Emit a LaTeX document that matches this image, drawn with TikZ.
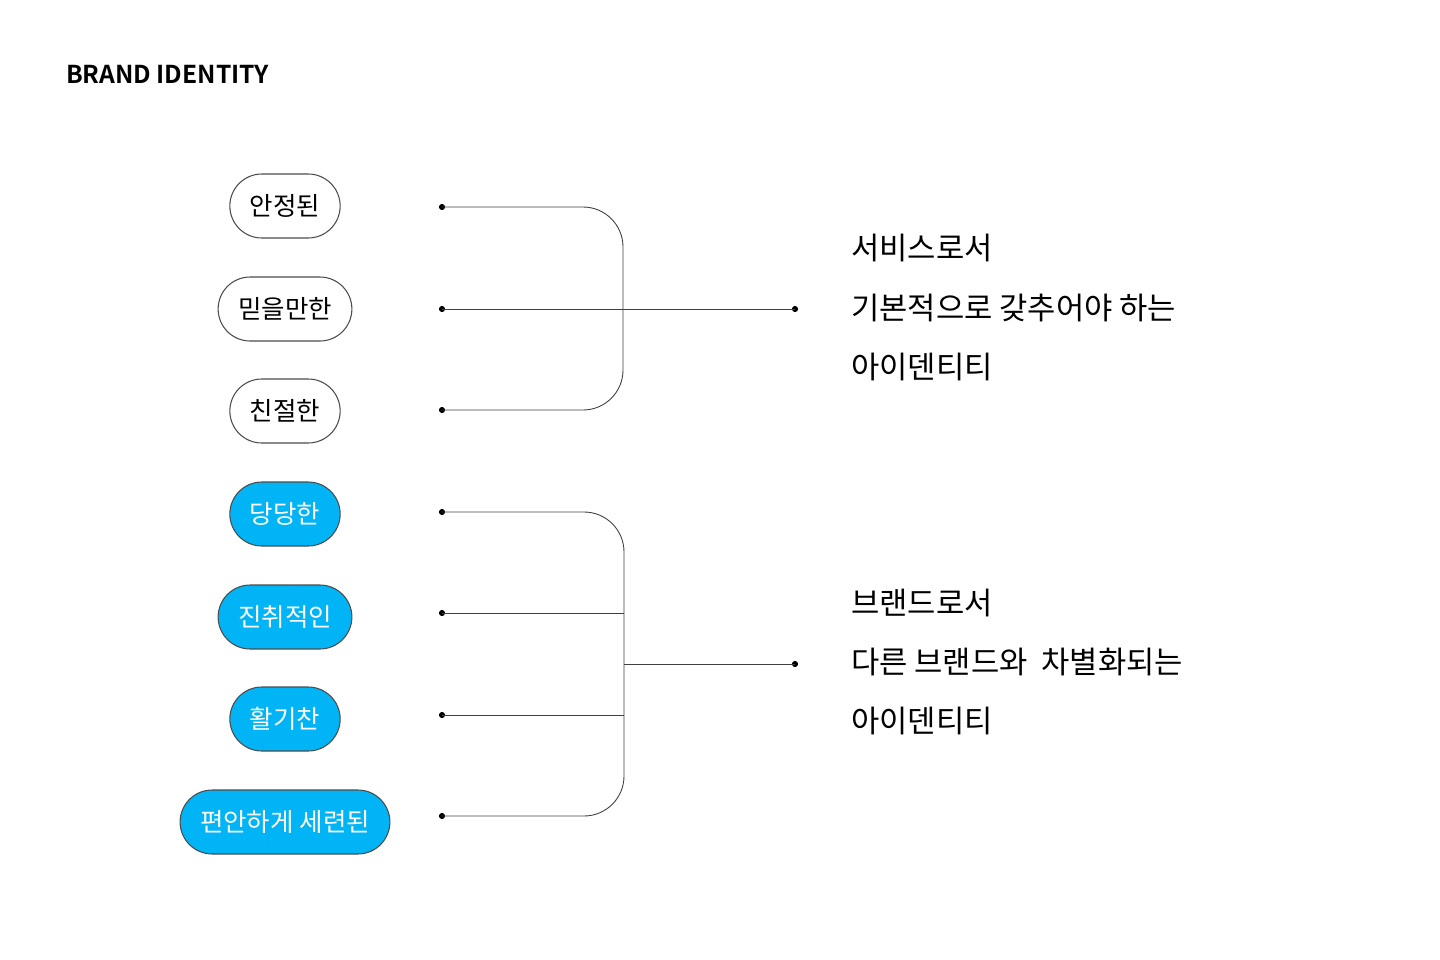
\documentclass[tikz,border=0pt]{standalone}
\usepackage{fontspec}
\setmainfont{Noto Sans CJK KR}
\newfontfamily\krbold{Noto Sans CJK KR Bold}
\usetikzlibrary{positioning}
\definecolor{pillblue}{HTML}{00B4F5}
\tikzset{
  pill/.style={draw=black!70, line width=0.6pt, rounded corners=32*0.02cm,
    minimum height=64*0.02cm, inner xsep=20*0.02cm, font=\fontsize{14.5}{16}\selectfont},
  plain pill/.style={pill, fill=white, text=black},
  blue pill/.style={pill, fill=pillblue, text=white},
  link/.style={draw=black!75, line width=0.5pt, rounded corners=40*0.02cm},
  tip/.style={circle, fill=black, inner sep=0pt, minimum size=3.5pt},
  label/.style={anchor=west, font=\fontsize{17.5}{20}\selectfont}
}
\begin{document}
\begin{tikzpicture}[x=0.02cm, y=-0.02cm]
  \useasboundingbox (0,0) rectangle (1440,960);
  % Title
  \node[anchor=west, font=\krbold\fontsize{14}{16}\selectfont] (title) at (60,74) {BRAND IDENTITY};
  % Keywords
  \node[plain pill] (k1) at (285,206) {안정된};
  \node[plain pill] (k2) at (285,309) {믿을만한};
  \node[plain pill] (k3) at (285,411) {친절한};
  \node[blue pill] (k4) at (285,514) {당당한};
  \node[blue pill] (k5) at (285,617) {진취적인};
  \node[blue pill] (k6) at (285,719) {활기찬};
  \node[blue pill] (k7) at (285,822) {편안하게 세련된};
  % Connector ends
  \foreach \i/\y in {1/207,2/309,3/410,4/512,5/613,6/715,7/816}
    \node[tip] (s\i) at (442,\y) {};
  \node[tip] (e1) at (795,309) {};
  \node[tip] (e2) at (795,664) {};
  \coordinate (j1) at (624,664);
  % Upper group
  \draw[link] (s1.center) -| (623,309) |- (s3.center);
  \draw[link] (s2.center) -- (e1.center);
  % Lower group
  \draw[link] (s4.center) -| (j1) |- (s7.center);
  \draw[link] (s5.center) -- (s5.center -| j1);
  \draw[link] (s6.center) -- (s6.center -| j1);
  \draw[link] (j1) -- (e2.center);
  % Descriptions
  \node[label] (d1) at (845,248) {서비스로서};
  \node[label] (d2) at (845,308) {기본적으로 갖추어야 하는};
  \node[label] (d3) at (845,367) {아이덴티티};
  \node[label] (d4) at (845,603) {브랜드로서};
  \node[label] (d5) at (845,662) {다른 브랜드와\ \ 차별화되는};
  \node[label] (d6) at (845,721) {아이덴티티};
\end{tikzpicture}
\end{document}
